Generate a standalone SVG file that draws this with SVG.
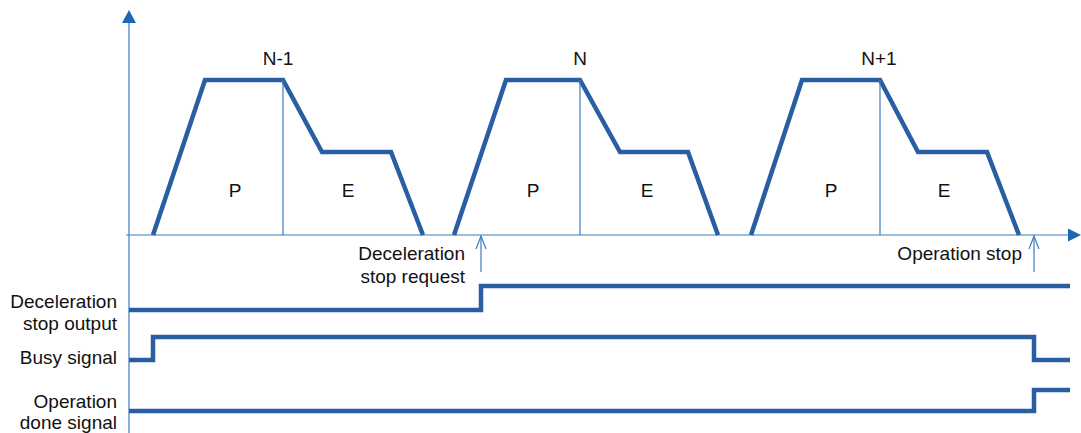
<svg xmlns="http://www.w3.org/2000/svg" width="1081" height="433" viewBox="0 0 1081 433">
<style>
text{font-family:"Liberation Sans",Arial,sans-serif;font-size:19px;fill:#111}
.thick{fill:none;stroke:#2a5ea3;stroke-width:4.5;stroke-linejoin:miter}
.thin{fill:none;stroke:#3d7cc0;stroke-width:1.2}
.r{text-anchor:end}
.m{text-anchor:middle}
</style>
<g id="axes">
<line class="thin" x1="129" y1="433" x2="129" y2="20"/>
<path d="M129,10 L122,23 L136,23 Z" fill="#1f66b0"/>
<line class="thin" x1="126" y1="235" x2="1068" y2="235"/>
<path d="M1081,235 L1068,228.5 L1068,241.5 Z" fill="#1f66b0"/>
</g>
<g id="profile-n-1">
<path class="thick" d="M153,235 L205,80 L283,80 L322,152 L391,152 L423,235"/>
<line class="thin" x1="283" y1="80" x2="283" y2="235"/>
<text x="278" y="65" class="m">N-1</text>
<text x="235" y="197" class="m">P</text>
<text x="348" y="197" class="m">E</text>
</g>
<g id="profile-n">
<path class="thick" d="M454,235 L506,80 L580,80 L620,152 L688,152 L718,235"/>
<line class="thin" x1="580" y1="80" x2="580" y2="235"/>
<text x="580" y="65" class="m">N</text>
<text x="533" y="197" class="m">P</text>
<text x="647" y="197" class="m">E</text>
</g>
<g id="profile-n1">
<path class="thick" d="M751,235 L802,80 L880,80 L918,152 L987,152 L1019,235"/>
<line class="thin" x1="880" y1="80" x2="880" y2="235"/>
<text x="879" y="65" class="m">N+1</text>
<text x="831" y="197" class="m">P</text>
<text x="944" y="197" class="m">E</text>
</g>
<g id="connectors">
<g id="decel-request">
<line class="thin" x1="481" y1="272" x2="481" y2="236"/>
<path class="thin" d="M476,249 L481,236 L486,249"/>
<text x="465" y="260" class="r">Deceleration</text>
<text x="465" y="283" class="r">stop request</text>
</g>
<g id="operation-stop">
<line class="thin" x1="1034" y1="272" x2="1034" y2="236"/>
<path class="thin" d="M1029,249 L1034,236 L1039,249"/>
<text x="1022" y="260" class="r">Operation stop</text>
</g>
</g>
<g id="signal-decel">
<text x="117" y="308" class="r">Deceleration</text>
<text x="117" y="330" class="r">stop output</text>
<path class="thick" d="M129,310 L481,310 L481,286 L1070,286"/>
</g>
<g id="signal-busy">
<text x="117" y="364" class="r">Busy signal</text>
<path class="thick" d="M129,360 L153,360 L153,337 L1034,337 L1034,360 L1070,360"/>
</g>
<g id="signal-done">
<text x="117" y="408" class="r">Operation</text>
<text x="117" y="429" class="r">done signal</text>
<path class="thick" d="M129,411 L1034,411 L1034,390 L1070,390"/>
</g>
</svg>
